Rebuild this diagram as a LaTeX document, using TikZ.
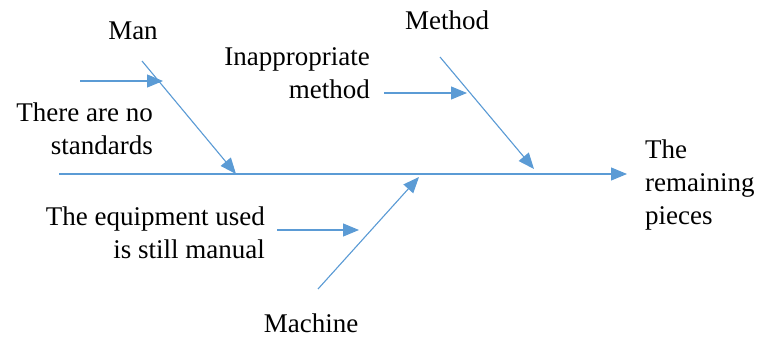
\documentclass[tikz,border=0pt]{standalone}
\usepackage{fontspec}
\setmainfont{Liberation Serif}
\usetikzlibrary{arrows.meta}
\definecolor{bone}{HTML}{5B9BD5}
\begin{document}
\begin{tikzpicture}[x=1pt,y=-1pt,
  lbl/.style={inner sep=0pt,font=\fontsize{27}{33}\selectfont},
  arr/.style={draw=bone,line width=1.1pt,-{Triangle[length=16pt,width=13pt]},fill=bone}]
\useasboundingbox (0,0) rectangle (759,337);
% coordinates
\coordinate (spineS) at (59,174);
\coordinate (spineE) at (627,174);
\coordinate (manS) at (142,61);
\coordinate (manE) at (236,174);
\coordinate (manSubS) at (80,81);
\coordinate (manSubE) at (163,81);
\coordinate (metS) at (440,57);
\coordinate (metE) at (534,169);
\coordinate (metSubS) at (384,93);
\coordinate (metSubE) at (467,93);
\coordinate (macS) at (318,289);
\coordinate (macE) at (419,177);
\coordinate (macSubS) at (277,230);
\coordinate (macSubE) at (359,230);
% labels
\node[lbl] (man) at (133,31) {Man};
\node[lbl] (method) at (447,20) {Method};
\node[lbl] (machine) at (311,323) {Machine};
\node[lbl,align=right,anchor=east] (nostd) at (153,129) {There are no\\standards};
\node[lbl,align=right,anchor=east] (inapp) at (370,73) {Inappropriate\\method};
\node[lbl,align=right,anchor=east] (equip) at (265,233) {The equipment used\\is still manual};
\node[lbl,align=left,anchor=west] (effect) at (645,185) {The\\remaining\\pieces};
% connectors
\draw[arr] (spineS) -- (spineE);
\draw[arr] (manS) -- (manE);
\draw[arr] (manSubS) -- (manSubE);
\draw[arr] (metS) -- (metE);
\draw[arr] (metSubS) -- (metSubE);
\draw[arr] (macS) -- (macE);
\draw[arr] (macSubS) -- (macSubE);
\end{tikzpicture}
\end{document}
